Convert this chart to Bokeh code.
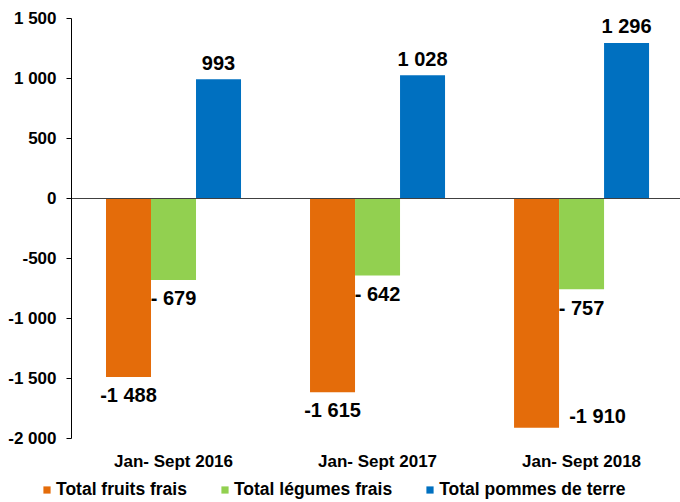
from bokeh.plotting import figure
from bokeh.models import ColumnDataSource, FixedTicker, Range1d, Legend, LegendItem
from bokeh.core.properties import value
from bokeh.embed import file_html
from bokeh.resources import INLINE

# ---- data ----
periods = ["Jan- Sept 2016", "Jan- Sept 2017", "Jan- Sept 2018"]
series_names = ["Total fruits frais", "Total légumes frais", "Total pommes de terre"]
fruits = [-1488, -1615, -1910]
legumes = [-679, -642, -757]
pommes = [993, 1028, 1296]
fruit_labels = ["-1 488", "-1 615", "-1 910"]
legume_labels = ["- 679", "- 642", "- 757"]
pomme_labels = ["993", "1 028", "1 296"]
y_ticks = [-2000, -1500, -1000, -500, 0, 500, 1000, 1500]
y_tick_labels = ["-2 000", "-1 500", "-1 000", "-500", "0", "500", "1 000", "1 500"]

# ---- style ----
colors = ["#E46C0A", "#92D050", "#0070C0"]
FONT = "Liberation Sans"
BAR_W = 45 / 204
# label offsets (screen px) per series / per point
fruit_xoff = [0, 0, 61]
fruit_yoff = [18, 18, -11.5]
legume_yoff = 18.5
pomme_yoff = -16.5

xs = list(range(len(periods)))
x_lo = xs[0] - 0.5
y_lo, y_hi = y_ticks[0], y_ticks[-1]

p = figure(width=680, height=502, output_backend="svg", toolbar_location=None,
           x_range=Range1d(-0.848, 2.485), y_range=Range1d(-2533.3, 1650),
           min_border_left=0, min_border_right=0, min_border_top=0, min_border_bottom=0)
p.outline_line_color = None
p.xgrid.visible = False
p.ygrid.visible = False
p.background_fill_color = "white"
p.border_fill_color = "white"

renderers = []
for i, vals in enumerate([fruits, legumes, pommes]):
    off = (i - 1) * BAR_W
    src = ColumnDataSource(dict(x=[v + off for v in xs], top=vals))
    r = p.vbar(x="x", top="top", bottom=0, width=BAR_W, source=src,
               fill_color=colors[i], line_color=None)
    renderers.append(r)

# zero line (from the value axis to the right)
p.ray(x=[x_lo], y=[0], length=0, angle=0, line_color="#404040", line_width=1)

# data labels
lx, ly, lt, lxo, lyo = [], [], [], [], []
for j in xs:
    lx.append(j - BAR_W); ly.append(fruits[j]); lt.append(fruit_labels[j])
    lxo.append(fruit_xoff[j]); lyo.append(fruit_yoff[j])
    lx.append(j); ly.append(legumes[j]); lt.append(legume_labels[j])
    lxo.append(0); lyo.append(legume_yoff)
    lx.append(j + BAR_W); ly.append(pommes[j]); lt.append(pomme_labels[j])
    lxo.append(0); lyo.append(pomme_yoff)
lsrc = ColumnDataSource(dict(x=lx, y=ly, text=lt, xo=lxo, yo=lyo))
p.text(x="x", y="y", text="text", x_offset="xo", y_offset="yo", source=lsrc,
       text_align="center", text_baseline="middle", text_font=value(FONT),
       text_font_style="bold", text_font_size="20px", text_color="black")

# y axis
ya = p.yaxis[0]
ya.fixed_location = x_lo
ya.ticker = FixedTicker(ticks=y_ticks)
ya.major_label_overrides = {t: s for t, s in zip(y_ticks, y_tick_labels)}
ya.bounds = (y_lo, y_hi)
ya.axis_line_color = "black"
ya.major_tick_line_color = "black"
ya.major_tick_in = 0
ya.major_tick_out = 5
ya.minor_tick_line_color = None
ya.major_label_standoff = 10
ya.major_label_text_font = FONT
ya.major_label_text_font_style = "bold"
ya.major_label_text_font_size = "17px"
ya.major_label_text_color = "black"

# x axis
xa = p.xaxis[0]
xa.fixed_location = y_lo
xa.ticker = FixedTicker(ticks=xs)
xa.major_label_overrides = {x: s for x, s in zip(xs, periods)}
xa.axis_line_color = None
xa.major_tick_line_color = None
xa.minor_tick_line_color = None
xa.major_tick_out = 0
xa.major_tick_in = 0
xa.major_label_standoff = 13
xa.major_label_text_font = FONT
xa.major_label_text_font_style = "bold"
xa.major_label_text_font_size = "17px"
xa.major_label_text_color = "black"

legend = Legend(items=[LegendItem(label=n, renderers=[r]) for n, r in zip(series_names, renderers)],
                orientation="horizontal", glyph_width=9, glyph_height=9, label_standoff=5,
                spacing=33, padding=0, margin=0, border_line_color=None,
                background_fill_alpha=0, label_height=18, label_text_font=FONT,
                label_text_font_style="bold", label_text_font_size="17.5px",
                label_text_color="black", location=(42, 2))
p.add_layout(legend, "center")

open("out.html", "w").write(file_html(p, INLINE))
